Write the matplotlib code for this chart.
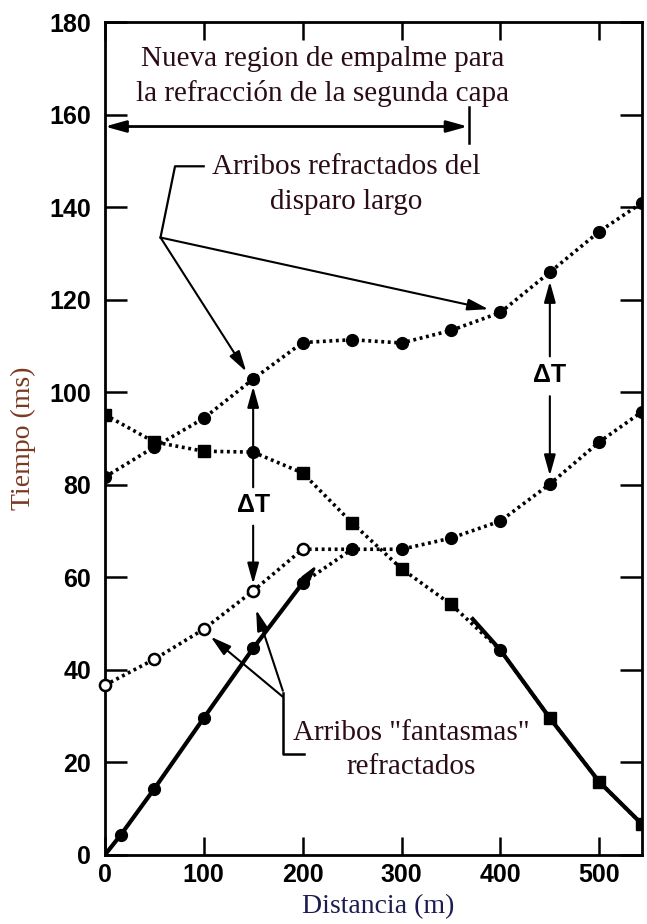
import matplotlib
matplotlib.use("Agg")
import matplotlib.pyplot as plt

# ---------------- data ----------------
dist = [0, 50, 100, 150, 200, 250, 300, 350, 400, 450, 500, 543]
long_refr = [81.7, 88.2, 94.4, 102.9, 110.8, 111.4, 110.7, 113.4, 117.3, 126.0, 134.8, 141.0]
long_second = [95.2, 89.3, 87.3, 87.1, 82.6, 71.8, 61.9, 54.2, 44.3, 29.6, 15.8, 6.7]
long_second_markers = ['s', 's', 's', 'o', 's', 's', 's', 's', 'o', 's', 's', 's']

direct_short_x = [0, 16, 50, 100, 150, 200]
direct_short_y = [0, 4.3, 14.3, 29.6, 44.7, 58.8]

short_refr_x = [200, 250, 300, 350, 400, 450, 500, 543]
short_refr_y = [58.8, 66.1, 66.1, 68.5, 72.2, 80.2, 89.3, 95.8]

ghost_x = [0, 50, 100, 150, 200]
ghost_y = [36.7, 42.3, 48.8, 57.1, 66.1]

direct_long_x = [372, 400, 450, 500, 543, 560]
direct_long_y = [51.0, 44.3, 29.6, 15.8, 6.7, 2.0]

x_ticks = [0, 100, 200, 300, 400, 500]
y_ticks = [0, 20, 40, 60, 80, 100, 120, 140, 160, 180]

serif = ['Liberation Serif', 'DejaVu Serif']
sans = ['Liberation Sans', 'DejaVu Sans']
txt_col = '#2a0c14'

# ---------------- figure ----------------
fig = plt.figure(figsize=(6.47, 9.24), dpi=100)
ax = fig.add_axes([0.162, 0.0747, 0.830, 0.901])
ax.set_xlim(0, 543)
ax.set_ylim(0, 180)

dot = (0, (0.8, 1.0))
lw_dot = 2.6
msz = 8.5

# long-shot refracted arrivals (upper circles)
ax.plot(dist, long_refr, linestyle=dot, lw=lw_dot, color='black', zorder=3)
ax.plot(dist, long_refr, linestyle='none', marker='o', ms=msz, color='black', zorder=4)

# long-shot second series (squares)
ax.plot(dist, long_second, linestyle=dot, lw=lw_dot, color='black', zorder=3)
for xv, yv, mk in zip(dist, long_second, long_second_markers):
    ax.plot([xv], [yv], linestyle='none', marker=mk, ms=msz if mk == 'o' else 8,
            color='black', zorder=4)

# long-shot direct (solid part)
ax.plot(direct_long_x, direct_long_y, '-', lw=3.0, color='black', zorder=3)

# short-shot direct (solid)
ax.plot(direct_short_x, direct_short_y, '-', lw=3.0, color='black', zorder=3)
ax.plot(direct_short_x[1:], direct_short_y[1:], linestyle='none', marker='o', ms=msz,
        color='black', zorder=4)

# short-shot refracted (dotted)
ax.plot(short_refr_x, short_refr_y, linestyle=dot, lw=lw_dot, color='black', zorder=3)
ax.plot(short_refr_x[1:], short_refr_y[1:], linestyle='none', marker='o', ms=msz,
        color='black', zorder=4)

# ghost arrivals (open circles)
ax.plot(ghost_x + [short_refr_x[1]], ghost_y + [short_refr_y[1]], linestyle=dot,
        lw=lw_dot, color='black', zorder=3)
ax.plot(ghost_x, ghost_y, linestyle='none', marker='o', ms=8, mfc='white',
        mec='black', mew=1.8, zorder=5, clip_on=False)


def arrow(lw=1.5, style='-|>,head_length=0.9,head_width=0.25'):
    return dict(arrowstyle=style, color='black', lw=lw, shrinkA=0, shrinkB=0,
                mutation_scale=14)


# small arrowhead on the short-shot direct line
ax.annotate('', xy=(215, 62.8), xytext=(direct_short_x[-1], direct_short_y[-1]),
            arrowprops=arrow(2.0, '-|>,head_length=0.7,head_width=0.18'), zorder=4)

# ---- top annotation: overlap region ----
ax.text(220, 168.3, 'Nueva region de empalme para\nla refracción de la segunda capa',
        ha='center', va='center', fontsize=21, family=serif, color=txt_col,
        linespacing=1.42)
ax.annotate('', xy=(0, 157.5), xytext=(367, 157.5),
            arrowprops=arrow(2.0, '<|-|>,head_length=0.9,head_width=0.25'))
ax.plot([368, 368], [154, 161.8], color='black', lw=1.8)

# ---- long-shot refracted annotation ----
ax.text(244, 145.0, 'Arribos refractados del\ndisparo largo', ha='center',
        va='center', fontsize=21, family=serif, color=txt_col, linespacing=1.42)
ax.plot([100, 71, 56.3], [148.9, 148.9, 133.5], color='black', lw=1.6)
ax.annotate('', xy=(143, 104.5), xytext=(56.3, 133.5), arrowprops=arrow())
ax.annotate('', xy=(388, 118.0), xytext=(56.3, 133.5), arrowprops=arrow())

# ---- delta T ----
for xc, yc, top0, top1, bot0, bot1 in [(150, 75.6, 79.5, 101.3, 71.2, 58.6),
                                        (450, 103.7, 107.8, 124.0, 99.2, 82.0)]:
    ax.text(xc, yc, 'ΔT', ha='center', va='center', fontsize=18, family=sans,
            fontweight='bold', color='black')
    ax.annotate('', xy=(xc, top1), xytext=(xc, top0), arrowprops=arrow())
    ax.annotate('', xy=(xc, bot1), xytext=(xc, bot0), arrowprops=arrow())

# ---- ghost annotation ----
ax.text(310, 22.7, 'Arribos "fantasmas"\nrefractados', ha='center', va='center',
        fontsize=21, family=serif, color=txt_col, linespacing=1.42)
ax.plot([201, 180, 180], [21.8, 21.8, 35.0], color='black', lw=1.8)
ax.annotate('', xy=(107, 47.2), xytext=(180, 34.2), arrowprops=arrow())
ax.annotate('', xy=(153, 53.0), xytext=(180, 35.5), arrowprops=arrow())

# ---------------- axes styling ----------------
for s in ax.spines.values():
    s.set_linewidth(2.0)
ax.set_xticks(x_ticks)
ax.set_yticks(y_ticks)
ax.set_xticklabels([str(v) for v in x_ticks])
ax.set_yticklabels([str(v) for v in y_ticks])
ax.tick_params(axis='y', direction='in', length=16, width=1.8, left=True, right=True,
               labelsize=18, pad=10)
ax.tick_params(axis='x', direction='in', length=13, width=1.8, top=True, bottom=True,
               labelsize=18, pad=6)
for lab in ax.get_xticklabels() + ax.get_yticklabels():
    lab.set_family(sans)
    lab.set_fontweight('bold')

fig.text(23 / 647, 1 - 438 / 924, 'Tiempo (ms)', rotation=90, ha='center', va='center',
         fontsize=20, family=serif, color='#7a3a22')
fig.text(378 / 647, 1 - 907 / 924, 'Distancia (m)', ha='center', va='center',
         fontsize=20, family=serif, color='#1c1c50')

fig.savefig('out.png', dpi=100)
